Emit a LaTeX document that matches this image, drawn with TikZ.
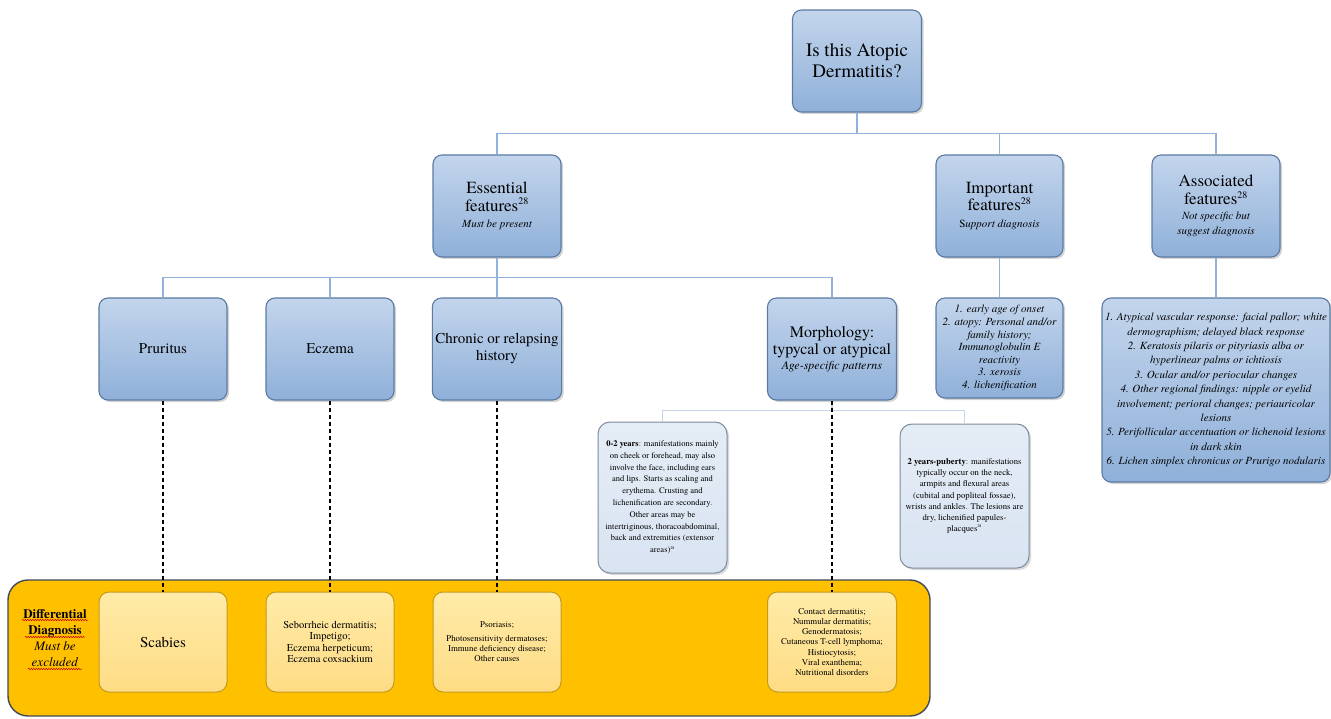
\documentclass[tikz,border=0pt]{standalone}
\usepackage{fontspec}
\IfFontExistsTF{texgyretermes-regular.otf}
  {\newfontfamily\tms{texgyretermes}[Extension=.otf, UprightFont=*-regular, BoldFont=*-bold, ItalicFont=*-italic, BoldItalicFont=*-bolditalic]}
  {\newfontfamily\tms{Liberation Serif}}
\usetikzlibrary{shadows,decorations.pathmorphing}
\definecolor{bluetop}{HTML}{C3D5EC}
\definecolor{bluebot}{HTML}{8FB0D9}
\definecolor{blueedge}{HTML}{5B7BA3}
\definecolor{conncol}{HTML}{8FB3DE}
\definecolor{lightconn}{HTML}{C5D5EA}
\definecolor{agefill}{HTML}{D9E4F2}
\definecolor{ageedge}{HTML}{7F8C9C}
\definecolor{gold}{HTML}{FFC000}
\definecolor{goldedge}{HTML}{404A5A}
\definecolor{ytop}{HTML}{FFEBA8}
\definecolor{ybot}{HTML}{FEDC85}
\definecolor{yedge}{HTML}{C49A1C}
\newcommand\smit{\fontsize{11}{12}\selectfont\itshape}
\newcommand\supref{\textsuperscript{\fontsize{10}{10}\selectfont 28}}
\newcommand\tinyref{\textsuperscript{\fontsize{4}{4}\selectfont 28}}
\tikzset{
  bluebox/.style={draw=blueedge, line width=1.1pt, rounded corners=9pt,
    top color=bluetop, bottom color=bluebot, align=center, inner sep=3pt,
    drop shadow={shadow xshift=2pt, shadow yshift=-2pt, opacity=0.35}},
  agebox/.style={draw=ageedge, line width=1pt, rounded corners=12pt,
    top color=agefill!70!white, bottom color=agefill, align=center, inner sep=3pt,
    drop shadow={shadow xshift=2pt, shadow yshift=-2pt, opacity=0.3}},
  ybox/.style={draw=yedge, line width=1pt, rounded corners=10pt,
    top color=ytop, bottom color=ybot, align=center, inner sep=3pt,
    minimum width=128pt, minimum height=100pt},
  conn/.style={draw=conncol, line width=1.7pt},
  lconn/.style={draw=lightconn, line width=1.6pt},
  dconn/.style={draw=black, line width=1.4pt, dash pattern=on 4pt off 3pt},
  squig/.style={draw=red!80!black, line width=0.5pt, decorate,
    decoration={snake, amplitude=0.7pt, segment length=2.5pt}},
}
\begin{document}
\begin{tikzpicture}[x=1pt,y=-1pt]
\useasboundingbox (0,0) rectangle (1331,719);
% differential background
\draw[goldedge, line width=1.4pt, fill=gold, rounded corners=20pt] (8,580) rectangle (930,716);

% top
\node[bluebox, minimum width=129pt, minimum height=102pt, font=\tms\fontsize{19}{21}\selectfont] (title) at (857,61) {Is this Atopic\\Dermatitis?};

% level 2
\node[bluebox, minimum width=128pt, minimum height=102pt, font=\tms\fontsize{17}{17.5}\selectfont] (ess) at (497,206)
  {Essential\\features\supref\\[-1pt]\smit Must be present};
\node[bluebox, minimum width=127pt, minimum height=102pt, font=\tms\fontsize{17}{17.5}\selectfont] (imp) at (999.5,206)
  {Important\\features\supref\\[-1pt]\fontsize{11}{12}\selectfont S\itshape upport diagnosis};
\node[bluebox, minimum width=128pt, minimum height=102pt, font=\tms\fontsize{17}{17.5}\selectfont] (assoc) at (1216,206)
  {Associated\\features\supref\\[-2pt]\smit Not specific but\\[-3pt]\smit suggest diagnosis};

% level 3
\node[bluebox, minimum width=128pt, minimum height=102pt, font=\tms\fontsize{15}{17}\selectfont] (prur) at (163,349) {Pruritus};
\node[bluebox, minimum width=128pt, minimum height=102pt, font=\tms\fontsize{15}{17}\selectfont] (ecz) at (330,349) {Eczema};
\node[bluebox, minimum width=128pt, minimum height=102pt, font=\tms\fontsize{15}{17}\selectfont] (chron) at (497,349) {Chronic or relapsing\\history};
\node[bluebox, minimum width=129pt, minimum height=102pt, font=\tms\fontsize{16}{17}\selectfont] (morph) at (832,349)
  {Morphology:\\typycal or atypical\\[-2pt]\fontsize{12}{13}\selectfont\itshape Age-specific patterns};

\node[bluebox, minimum width=127pt, minimum height=100pt, font=\tms\fontsize{11}{12.6}\selectfont\itshape] (impdet) at (999.5,348)
  {1. early age of onset\\2. atopy: Personal and/or\\family history;\\Immunoglobulin E\\reactivity\\3. xerosis\\4. lichenification};
\node[bluebox, minimum width=226pt, minimum height=184pt, font=\tms\fontsize{11}{14.4}\selectfont\itshape] (assocdet) at (1216,390)
  {1. Atypical vascular response: facial pallor; white\\dermographism; delayed black response\\2. Keratosis pilaris or pityriasis alba or\\hyperlinear palms or ichtiosis\\3. Ocular and/or periocular changes\\4. Other regional findings: nipple or eyelid\\involvement; perioral changes; periauricolar\\lesions\\5. Perifollicular accentuation or lichenoid lesions\\in dark skin\\6. Lichen simplex chronicus or Prurigo nodularis};

% age boxes
\node[agebox, minimum width=129pt, minimum height=151pt, font=\tms\fontsize{8.5}{11.8}\selectfont] (age1) at (662.5,497.5)
  {\textbf{0-2 years}: manifestations mainly\\on cheek or forehead, may also\\involve the face, including ears\\and lips. Starts as scaling and\\erythema. Crusting and\\lichenification are secondary.\\Other areas may be\\intertriginous, thoracoabdominal,\\back and extremities (extensor\\areas)\tinyref};
\node[agebox, minimum width=129pt, minimum height=144pt, font=\tms\fontsize{8.7}{11.2}\selectfont] (age2) at (964.5,496)
  {\textbf{2 years-puberty}: manifestations\\typically occur on the neck,\\armpits and flexural areas\\(cubital and popliteal fossae),\\wrists and ankles. The lesions are\\dry, lichenified papules-\\placques\tinyref};

% differential boxes
\node[ybox, font=\tms\fontsize{15}{17}\selectfont] (scab) at (163,642) {Scabies};
\node[ybox, font=\tms\fontsize{10.5}{11.5}\selectfont] (sebo) at (330,642) {Seborrheic dermatitis;\\Impetigo;\\Eczema herpeticum;\\Eczema coxsackium};
\node[ybox, font=\tms\fontsize{8.8}{10}\selectfont] (psor) at (497,642) {Psoriasis;\\[4pt]Photosensitivity dermatoses;\\Immune deficiency disease;\\Other causes};
\node[ybox, minimum width=129pt, font=\tms\fontsize{8.8}{10.3}\selectfont] (cont) at (832,642) {Contact dermatitis;\\Nummular dermatitis;\\Genodermatosis;\\Cutaneous T-cell lymphoma;\\Histiocytosis;\\Viral exanthema;\\Nutritional disorders};

\node[align=center, font=\tms\fontsize{13}{16}\selectfont] (difflab) at (55,638)
  {\textbf{Differential}\\\textbf{Diagnosis}\\\textit{Must be}\\\textit{excluded}};
\draw[squig] (22,620) -- (88,620);
\draw[squig] (25,637) -- (85,637);
\draw[squig] (28,669) -- (82,669);

% connectors
\draw[conn] (title.south) -- ++(0,21) -| (ess.north);
\draw[conn] (title.south) -- ++(0,21) -| (imp.north);
\draw[conn] (title.south) -- ++(0,21) -| (assoc.north);
\draw[conn] (ess.south) -- ++(0,20) -| (prur.north);
\draw[conn] (ess.south) -- ++(0,20) -| (ecz.north);
\draw[conn] (ess.south) -- ++(0,20) -| (chron.north);
\draw[conn] (ess.south) -- ++(0,20) -| (morph.north);
\draw[conn] (imp.south) -- (impdet.north);
\draw[conn] (assoc.south) -- (assocdet.north);
\draw[lconn] (morph.south) -- ++(0,10) -| (age1.north);
\draw[lconn] (morph.south) -- ++(0,10) -| (age2.north);

\draw[dconn] (prur.south) -- (scab.north);
\draw[dconn] (ecz.south) -- (sebo.north);
\draw[dconn] (chron.south) -- (psor.north);
\draw[dconn] (morph.south) -- (cont.north);
\end{tikzpicture}
\end{document}
